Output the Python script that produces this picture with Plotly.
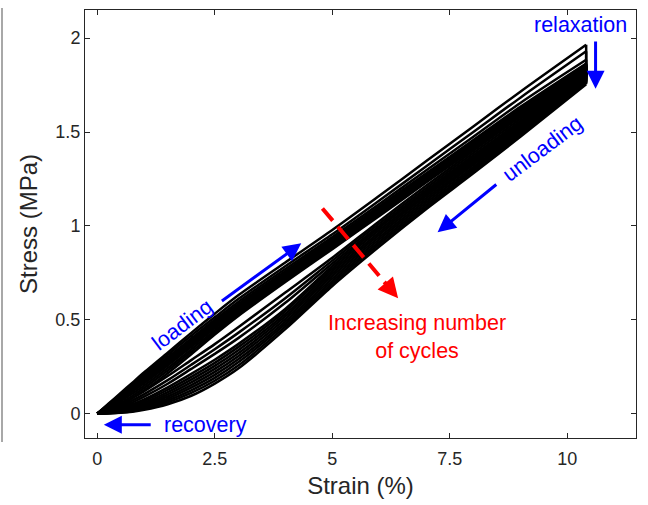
import plotly.graph_objects as go

# strain grid (%) shared by all curves
strain = [0, 0.25, 0.5, 0.75, 1, 1.5, 2, 2.5, 3, 4, 5, 6, 7, 8, 9, 10.4]

# loading curves (stress, MPa), one per cycle
load_0 = [0, 0.055, 0.11, 0.165, 0.22, 0.325, 0.43, 0.532, 0.63, 0.805, 0.978, 1.16, 1.345, 1.53, 1.715, 1.965]
load_1 = [0, 0.052, 0.104, 0.157, 0.21, 0.313, 0.415, 0.513, 0.61, 0.785, 0.955, 1.135, 1.318, 1.50, 1.683, 1.93]
load_2 = [0, 0.049, 0.099, 0.15, 0.20, 0.30, 0.40, 0.50, 0.595, 0.77, 0.94, 1.117, 1.296, 1.475, 1.655, 1.885]
load_3 = [0, 0.046, 0.094, 0.143, 0.192, 0.29, 0.39, 0.49, 0.583, 0.758, 0.928, 1.104, 1.28, 1.457, 1.634, 1.865]
load_4 = [0, 0.044, 0.09, 0.138, 0.186, 0.284, 0.383, 0.482, 0.575, 0.75, 0.921, 1.097, 1.273, 1.45, 1.627, 1.861]
load_5 = [0, 0.042, 0.087, 0.133, 0.18, 0.277, 0.376, 0.475, 0.568, 0.743, 0.914, 1.09, 1.266, 1.443, 1.62, 1.857]
load_6 = [0, 0.039, 0.083, 0.128, 0.174, 0.27, 0.369, 0.468, 0.561, 0.736, 0.907, 1.083, 1.26, 1.437, 1.614, 1.853]
load_7 = [0, 0.036, 0.079, 0.123, 0.168, 0.263, 0.362, 0.461, 0.554, 0.729, 0.90, 1.077, 1.254, 1.431, 1.608, 1.85]
load_8 = [0, 0.033, 0.075, 0.118, 0.162, 0.256, 0.355, 0.454, 0.547, 0.722, 0.894, 1.071, 1.248, 1.425, 1.602, 1.847]
load_9 = [0, 0.028, 0.066, 0.107, 0.15, 0.243, 0.342, 0.443, 0.538, 0.715, 0.888, 1.065, 1.242, 1.42, 1.597, 1.844]
load_10 = [0, 0.022, 0.056, 0.095, 0.137, 0.229, 0.329, 0.432, 0.529, 0.708, 0.882, 1.059, 1.237, 1.415, 1.592, 1.842]
load_11 = [0, 0.016, 0.046, 0.083, 0.124, 0.215, 0.316, 0.421, 0.52, 0.701, 0.876, 1.053, 1.232, 1.41, 1.588, 1.84]

# unloading curves (stress, MPa), one per cycle, at the same strain grid
unload_0 = [0, 0.021, 0.05, 0.083, 0.12, 0.20, 0.285, 0.37, 0.46, 0.645, 0.83, 1.025, 1.215, 1.40, 1.582, 1.83]
unload_1 = [0, 0.017, 0.042, 0.071, 0.104, 0.178, 0.26, 0.343, 0.43, 0.615, 0.815, 1.012, 1.202, 1.388, 1.57, 1.822]
unload_2 = [0, 0.014, 0.035, 0.06, 0.09, 0.159, 0.238, 0.318, 0.402, 0.59, 0.80, 1.00, 1.19, 1.376, 1.558, 1.815]
unload_3 = [0, 0.011, 0.028, 0.05, 0.076, 0.14, 0.212, 0.287, 0.37, 0.558, 0.785, 0.99, 1.18, 1.366, 1.548, 1.808]
unload_4 = [0, 0.009, 0.024, 0.043, 0.067, 0.127, 0.196, 0.27, 0.354, 0.545, 0.772, 0.978, 1.17, 1.356, 1.54, 1.80]
unload_5 = [0, 0.008, 0.02, 0.037, 0.058, 0.114, 0.181, 0.254, 0.338, 0.531, 0.759, 0.965, 1.16, 1.346, 1.532, 1.793]
unload_6 = [0, 0.006, 0.017, 0.031, 0.05, 0.102, 0.166, 0.238, 0.321, 0.518, 0.746, 0.953, 1.148, 1.336, 1.523, 1.786]
unload_7 = [0, 0.005, 0.014, 0.026, 0.043, 0.091, 0.152, 0.222, 0.305, 0.504, 0.733, 0.94, 1.136, 1.325, 1.514, 1.779]
unload_8 = [0, 0.004, 0.011, 0.021, 0.036, 0.08, 0.138, 0.206, 0.289, 0.49, 0.719, 0.928, 1.124, 1.314, 1.504, 1.773]
unload_9 = [0, 0.003, 0.008, 0.017, 0.03, 0.07, 0.124, 0.19, 0.273, 0.477, 0.706, 0.915, 1.112, 1.303, 1.495, 1.767]
unload_10 = [0, 0.002, 0.006, 0.013, 0.025, 0.06, 0.11, 0.175, 0.256, 0.463, 0.693, 0.903, 1.10, 1.292, 1.485, 1.761]
unload_11 = [0, 0.001, 0.004, 0.01, 0.02, 0.05, 0.095, 0.16, 0.24, 0.45, 0.68, 0.89, 1.09, 1.28, 1.475, 1.755]

loading = [load_0, load_1, load_2, load_3, load_4, load_5, load_6, load_7,
           load_8, load_9, load_10, load_11]
unloading = [unload_0, unload_1, unload_2, unload_3, unload_4, unload_5, unload_6, unload_7,
             unload_8, unload_9, unload_10, unload_11]

x_ticks = [0, 2.5, 5, 7.5, 10]
x_tick_labels = ["0", "2.5", "5", "7.5", "10"]
y_ticks = [0, 0.5, 1, 1.5, 2]
y_tick_labels = ["0", "0.5", "1", "1.5", "2"]

LW = 2.5
fig = go.Figure()
for ld, ul in zip(loading, unloading):
    fig.add_trace(go.Scatter(x=strain, y=ld, mode="lines",
                             line=dict(color="black", width=LW, shape="spline", smoothing=0.8),
                             showlegend=False, hoverinfo="skip"))
    fig.add_trace(go.Scatter(x=[strain[-1], strain[-1]], y=[ld[-1], ul[-1]], mode="lines",
                             line=dict(color="black", width=LW),
                             showlegend=False, hoverinfo="skip"))
    fig.add_trace(go.Scatter(x=strain[::-1], y=ul[::-1], mode="lines",
                             line=dict(color="black", width=LW, shape="spline", smoothing=0.8),
                             showlegend=False, hoverinfo="skip"))

FONT = "Liberation Sans, Arial, sans-serif"
axis_common = dict(showgrid=False, zeroline=False, showline=True, linecolor="#262626",
                   linewidth=1, mirror="allticks", ticks="inside", ticklen=5,
                   tickcolor="#262626", tickfont=dict(family=FONT, size=18, color="#262626"))

fig.update_layout(
    width=648, height=505,
    margin=dict(l=85, r=12, t=10, b=67),
    plot_bgcolor="white", paper_bgcolor="white",
    xaxis=dict(range=[-0.26, 11.46], tickvals=x_ticks, ticktext=x_tick_labels,
               ticklabelstandoff=4,
               title=dict(text="Strain (%)", font=dict(family=FONT, size=24, color="#262626"), standoff=9),
               **axis_common),
    yaxis=dict(range=[-0.13, 2.15], tickvals=y_ticks, ticktext=y_tick_labels,
               title=dict(text="Stress (MPa)", font=dict(family=FONT, size=24, color="#262626"), standoff=10),
               **axis_common),
)

blue = "#0000ff"
red = "#ff0000"
tfont = dict(family=FONT, size=21.5, color=blue)

arrows = [
    ((10.6, 1.99), (10.6, 1.73)),   # relaxation
    ((8.52, 1.227), (7.24, 0.966)), # unloading
    ((2.62, 0.594), (4.34, 0.907)), # loading
    ((1.17, -0.06), (0.14, -0.06)), # recovery
]
for (x0, y0), (x1, y1) in arrows:
    fig.add_annotation(x=x1, y=y1, ax=x0, ay=y0, xref="x", yref="y", axref="x", ayref="y",
                       showarrow=True, arrowhead=2, arrowsize=1.2, arrowwidth=3,
                       arrowcolor=blue, text="")

fig.add_annotation(x=10.29, y=2.068, text="relaxation", showarrow=False, font=tfont,
                   xanchor="center", yanchor="middle")
fig.add_annotation(x=9.47, y=1.41, text="unloading", showarrow=False, font=tfont,
                   textangle=-37, xanchor="center", yanchor="middle")
fig.add_annotation(x=1.81, y=0.47, text="loading", showarrow=False, font=tfont,
                   textangle=-37, xanchor="center", yanchor="middle")
fig.add_annotation(x=2.3, y=-0.06, text="recovery", showarrow=False, font=tfont,
                   xanchor="center", yanchor="middle")

fig.add_shape(type="line", x0=4.79, y0=1.093, x1=6.28, y1=0.65, xref="x", yref="y",
              line=dict(color=red, width=4, dash="16px,8px"))
fig.add_annotation(x=6.40, y=0.614, ax=6.22, ay=0.668, xref="x", yref="y", axref="x", ayref="y",
                   showarrow=True, arrowhead=2, arrowsize=1, arrowwidth=4, arrowcolor=red, text="")
fig.add_annotation(x=6.8, y=0.407, text="Increasing number<br>of cycles", showarrow=False,
                   font=dict(family=FONT, size=21.5, color=red), xanchor="center", yanchor="middle",
                   align="center")

fig.add_shape(type="line", xref="paper", yref="paper", x0=(2 - 85) / 551, x1=(2 - 85) / 551,
              y0=(438 - 442) / 428, y1=(438 - 8) / 428, line=dict(color="#a8a8a8", width=2))

fig.write_html("out.html")
